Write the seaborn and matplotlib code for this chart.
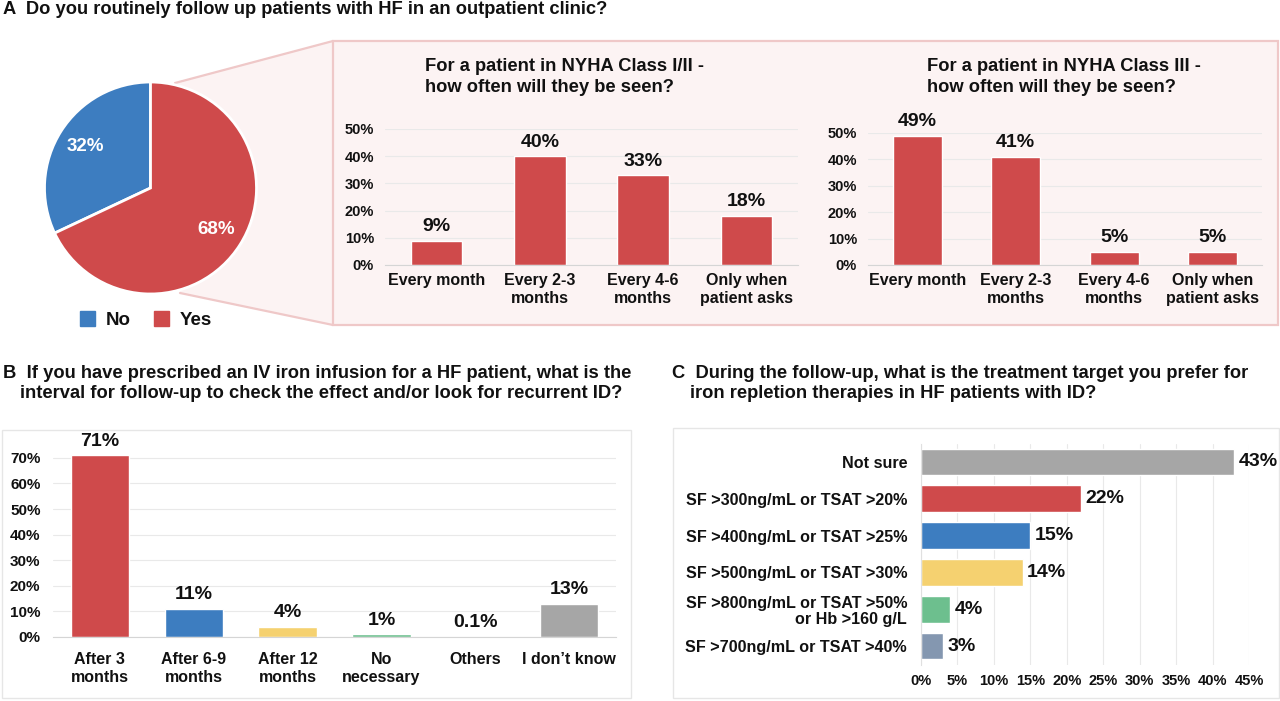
import matplotlib.pyplot as plt
import matplotlib.patches as mpatches
import seaborn as sns
import numpy as np
import pandas as pd

W, H = 1280, 701

RED = "#CF4A4B"
BLUE = "#3D7DC0"
YELLOW = "#F5D170"
GREEN = "#6DBF8E"
GRAY = "#A6A6A6"
SLATE = "#8497B0"

# panel A - pie
follow_labels = ["No", "Yes"]
follow_values = [32, 68]
follow_colors = [BLUE, RED]

# panel A - follow-up frequency
freq_cats = ["Every month", "Every 2-3\nmonths", "Every 4-6\nmonths", "Only when\npatient asks"]
nyha12_values = [9, 40, 33, 18]
nyha3_values = [49, 41, 5, 5]

# panel B
iv_cats = ["After 3\nmonths", "After 6-9\nmonths", "After 12\nmonths", "No\nnecessary", "Others", "I don\u2019t know"]
iv_values = [71, 11, 4, 1, 0.1, 13]
iv_labels = ["71%", "11%", "4%", "1%", "0.1%", "13%"]
iv_colors = [RED, BLUE, YELLOW, GREEN, "#E3E3E3", GRAY]

# panel C
target_cats = [
    "Not sure",
    "SF >300ng/mL or TSAT >20%",
    "SF >400ng/mL or TSAT >25%",
    "SF >500ng/mL or TSAT >30%",
    "SF >800ng/mL or TSAT >50%\nor Hb >160 g/L",
    "SF >700ng/mL or TSAT >40%",
]
target_values = [43, 22, 15, 14, 4, 3]
target_colors = [GRAY, RED, BLUE, YELLOW, GREEN, SLATE]

sns.set_style("white")
plt.rcParams["font.family"] = ["Liberation Sans", "DejaVu Sans"]
plt.rcParams["font.weight"] = "bold"
plt.rcParams["text.color"] = "#111111"
plt.rcParams["xtick.color"] = "#111111"
plt.rcParams["ytick.color"] = "#111111"


def px_axes(fig, left, top, right, bottom):
    ax = fig.add_axes([left / W, 1 - bottom / H, (right - left) / W, (bottom - top) / H])
    ax.set_facecolor("none")
    return ax


def ftext(fig, x, y, s, **kw):
    fig.text(x / W, 1 - y / H, s, fontweight="bold", **kw)


def vbars(ax, cats, vals, colors, labels, width, ymax, yticks, xfs, yfs, vfs, xpad, ypad):
    df = pd.DataFrame({"cat": cats, "val": vals})
    sns.barplot(data=df, x="cat", y="val", hue="cat", palette=colors, legend=False,
                width=width, saturation=1, ax=ax)
    for c, lab in zip(ax.containers, labels):
        ax.bar_label(c, labels=[lab], padding=4, fontsize=vfs, fontweight="bold")
    ax.set_ylim(0, ymax)
    ax.set_xlim(-0.5, len(cats) - 0.5)
    ax.set_yticks(yticks, labels=[f"{t}%" for t in yticks])
    ax.grid(axis="y", color="#E9E9E9", lw=0.8)
    ax.set_axisbelow(True)
    for s in ["top", "right", "left"]:
        ax.spines[s].set_visible(False)
    ax.spines["bottom"].set_color("#D5D5D5")
    ax.tick_params(axis="x", length=0, labelsize=xfs, pad=xpad)
    ax.tick_params(axis="y", length=0, labelsize=yfs, pad=ypad)
    for t in ax.get_xticklabels():
        t.set_linespacing(1.25)
    ax.set_xlabel("")
    ax.set_ylabel("")


fig = plt.figure(figsize=(W / 100, H / 100), dpi=100)

# background decorations (pink zoom region, panel boxes)
bg = fig.add_axes([0, 0, 1, 1])
bg.set_xlim(0, W)
bg.set_ylim(H, 0)
bg.axis("off")
pink_shape = [(175, 83), (333, 41), (1278, 41), (1278, 325), (333, 325), (180, 293)]
bg.add_patch(mpatches.Polygon(pink_shape, closed=True, facecolor="#FCF3F3", edgecolor="none"))
bg.add_patch(mpatches.Rectangle((333, 41), 945, 284, facecolor="none", edgecolor="#EFC8C8", lw=1.6))
bg.plot([175, 333], [83, 41], color="#EFC8C8", lw=1.6)
bg.plot([180, 333], [293, 325], color="#EFC8C8", lw=1.6)
bg.add_patch(mpatches.Rectangle((2, 430), 629, 268, facecolor="none", edgecolor="#E6E6E6", lw=1))
bg.add_patch(mpatches.Rectangle((673, 428), 606, 270, facecolor="none", edgecolor="#E6E6E6", lw=1))

# titles
TFS = 13.2
ftext(fig, 3, 10, "A  Do you routinely follow up patients with HF in an outpatient clinic?",
      fontsize=TFS, va="center")
ftext(fig, 3, 374, "B  If you have prescribed an IV iron infusion for a HF patient, what is the",
      fontsize=TFS, va="center")
ftext(fig, 20, 393, "interval for follow-up to check the effect and/or look for recurrent ID?",
      fontsize=TFS, va="center")
ftext(fig, 672, 374, "C  During the follow-up, what is the treatment target you prefer for",
      fontsize=TFS, va="center")
ftext(fig, 690, 393, "iron repletion therapies in HF patients with ID?",
      fontsize=TFS, va="center")
ftext(fig, 425, 77, "For a patient in NYHA Class I/II -\nhow often will they be seen?",
      fontsize=TFS, va="center", ha="left", linespacing=1.35)
ftext(fig, 927, 77, "For a patient in NYHA Class III -\nhow often will they be seen?",
      fontsize=TFS, va="center", ha="left", linespacing=1.35)

# pie
ax_pie = px_axes(fig, 44.5, 82, 256.5, 294)
wedges, _, autotexts = ax_pie.pie(
    follow_values, colors=follow_colors, startangle=90, counterclock=True,
    autopct="%.0f%%", pctdistance=0.73,
    wedgeprops=dict(edgecolor="white", linewidth=2),
)
for t in autotexts:
    t.set_color("white")
    t.set_fontsize(13.5)
    t.set_fontweight("bold")
ax_pie.set_xlim(-1, 1)
ax_pie.set_ylim(-1, 1)
handles = [mpatches.Patch(color=c) for c in follow_colors]
fig.legend(handles, follow_labels, loc="center", bbox_to_anchor=(146 / W, 1 - 320 / H),
           ncol=2, frameon=False, prop=dict(size=13.5, weight="bold"),
           handlelength=0.8, handleheight=0.8, columnspacing=1.2, handletextpad=0.6)

# NYHA I/II
ax1 = px_axes(fig, 385, 129, 798, 265)
vbars(ax1, freq_cats, nyha12_values, [RED] * 4, [f"{v}%" for v in nyha12_values],
      0.5, 50, [0, 10, 20, 30, 40, 50], 11.5, 10.5, 14, 6, 8)

# NYHA III
ax2 = px_axes(fig, 868, 133, 1262, 265)
vbars(ax2, freq_cats, nyha3_values, [RED] * 4, [f"{v}%" for v in nyha3_values],
      0.5, 50, [0, 10, 20, 30, 40, 50], 11.5, 10.5, 14, 6, 8)

# panel B
ax3 = px_axes(fig, 53, 440, 616, 637)
vbars(ax3, iv_cats, iv_values, iv_colors, iv_labels,
      0.62, 77, [0, 10, 20, 30, 40, 50, 60, 70], 11.5, 11, 14, 11, 9)

# panel C
ax4 = px_axes(fig, 921, 443.5, 1249, 664.5)
dfc = pd.DataFrame({"cat": target_cats, "val": target_values})
sns.barplot(data=dfc, x="val", y="cat", hue="cat", palette=target_colors, legend=False,
            orient="h", width=0.72, saturation=1, ax=ax4)
for c, v in zip(ax4.containers, target_values):
    ax4.bar_label(c, labels=[f"{v}%"], padding=3, fontsize=14, fontweight="bold")
ax4.set_xlim(0, 45)
ax4.set_ylim(len(target_cats) - 0.5, -0.5)
xt = [0, 5, 10, 15, 20, 25, 30, 35, 40, 45]
ax4.set_xticks(xt, labels=[f"{t}%" for t in xt])
ax4.grid(axis="x", color="#E9E9E9", lw=0.8)
ax4.set_axisbelow(True)
for s in ["top", "right", "bottom"]:
    ax4.spines[s].set_visible(False)
ax4.spines["left"].set_color("#E0E0E0")
ax4.tick_params(axis="x", length=0, labelsize=10.5, pad=7)
ax4.tick_params(axis="y", length=0, labelsize=11.6, pad=10)
for t in ax4.get_yticklabels():
    t.set_linespacing(1.1)
ax4.set_xlabel("")
ax4.set_ylabel("")

fig.savefig("out.png", dpi=100)
